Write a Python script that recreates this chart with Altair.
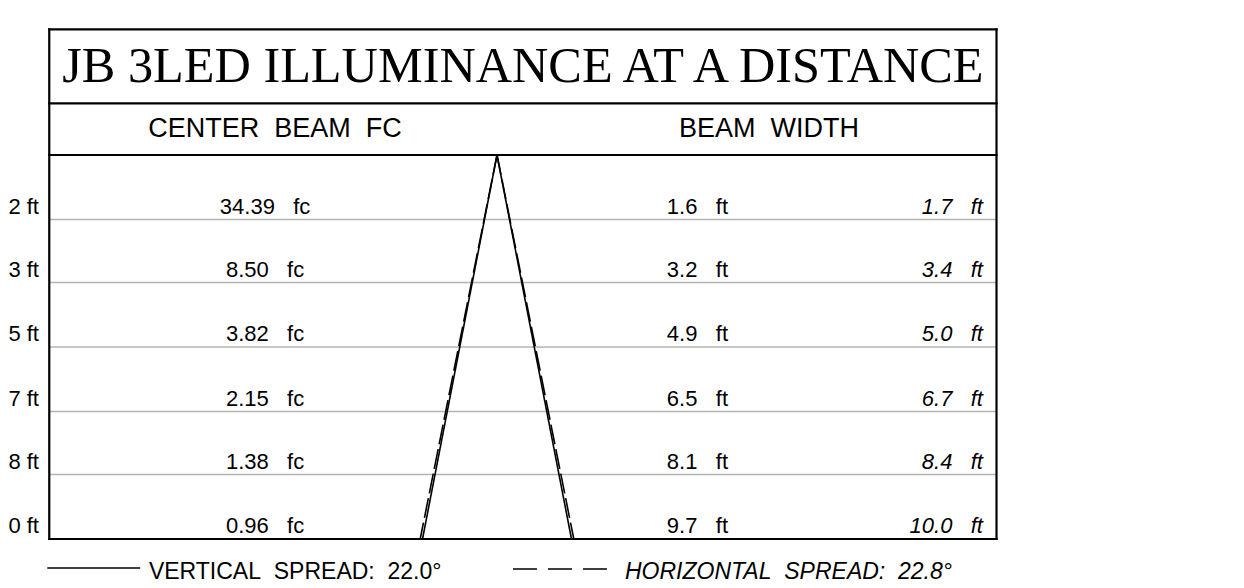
import altair as alt
import pandas as pd

# ---------------- data ----------------
distances = [4.2, 8.3, 12.5, 16.7, 20.8, 25.0]          # ft from fixture
center_fc = [34.39, 8.50, 3.82, 2.15, 1.38, 0.96]       # center beam footcandles
vertical_width = [1.6, 3.2, 4.9, 6.5, 8.1, 9.7]         # ft (vertical spread)
horizontal_width = [1.7, 3.4, 5.0, 6.7, 8.4, 10.0]      # ft (horizontal spread)
spread_labels = ["VERTICAL SPREAD: 22.0°", "HORIZONTAL SPREAD: 22.8°"]
title_text = "JB 3LED ILLUMINANCE AT A DISTANCE"
column_headers = ["CENTER BEAM FC", "BEAM WIDTH"]

NB = "\u00a0"


def gap(s, n):
    return s.replace(" ", NB * n)


# ---------------- layout (drawing units = feet) ----------------
PX_PER_FT = 15.36
W, H = 1228, 572
APEX_PX_X, APEX_PX_Y = 489, 147
XD = [-APEX_PX_X / PX_PER_FT, (W - APEX_PX_X) / PX_PER_FT]
YD = [-APEX_PX_Y / PX_PER_FT, (H - APEX_PX_Y) / PX_PER_FT]

BOX_L, BOX_R = -29.15, 32.52
BOX_T, TITLE_SEP, HEAD_SEP = -8.18, -3.366, 0.0
BOX_B = distances[-1]
ROW_TEXT_UP = 0.37

xs = alt.Scale(domain=XD, nice=False, zero=False)
ys = alt.Scale(domain=YD, nice=False, zero=False, reverse=True)


def X(f="x"):
    return alt.X(f"{f}:Q", scale=xs, axis=None)


def Y(f="y"):
    return alt.Y(f"{f}:Q", scale=ys, axis=None)


# borders
border = pd.DataFrame([
    dict(x=BOX_L, y=BOX_T, x2=BOX_R, y2=BOX_T),
    dict(x=BOX_L, y=TITLE_SEP, x2=BOX_R, y2=TITLE_SEP),
    dict(x=BOX_L, y=HEAD_SEP, x2=BOX_R, y2=HEAD_SEP),
    dict(x=BOX_L, y=BOX_B, x2=BOX_R, y2=BOX_B),
    dict(x=BOX_L, y=BOX_T, x2=BOX_L, y2=BOX_B),
    dict(x=BOX_R, y=BOX_T, x2=BOX_R, y2=BOX_B),
])
rows = pd.DataFrame(dict(x=BOX_L, x2=BOX_R, y=distances[:-1], y2=distances[:-1]))

beam_v = pd.DataFrame(dict(x=[0, 0], y=[0, 0],
                           x2=[-vertical_width[-1] / 2, vertical_width[-1] / 2],
                           y2=[distances[-1]] * 2))
beam_h = pd.DataFrame(dict(x=[0, 0], y=[0, 0],
                           x2=[-horizontal_width[-1] / 2, horizontal_width[-1] / 2],
                           y2=[distances[-1]] * 2))


def base_rule(df):
    return alt.Chart(df).encode(x=X(), y=Y(), x2="x2:Q", y2="y2:Q")


l_border = base_rule(border).mark_rule(color="black", strokeWidth=2.2, strokeCap="square")
l_rows = base_rule(rows).mark_rule(color="#b4b4b4", strokeWidth=1.5)
l_bv = base_rule(beam_v).mark_rule(color="black", strokeWidth=1.6)
l_bh = base_rule(beam_h).mark_rule(color="black", strokeWidth=1.6, strokeDash=[20, 5])

# texts
ty = [d - ROW_TEXT_UP for d in distances]
t_title = alt.Chart(pd.DataFrame(dict(x=[(BOX_L + BOX_R) / 2], y=[-4.772], t=[title_text]))).mark_text(
    font="Liberation Serif", fontSize=50.3, align="center", baseline="alphabetic", color="black"
).encode(x=X(), y=Y(), text="t:N")

t_head = alt.Chart(pd.DataFrame(dict(x=[-14.45, 17.71], y=[-1.191, -1.191],
                                     t=[gap(h, 2) for h in column_headers]))).mark_text(
    font="Liberation Sans", fontSize=27, align="center", baseline="alphabetic", color="black"
).encode(x=X(), y=Y(), text="t:N")

t_dist = alt.Chart(pd.DataFrame(dict(x=-29.82, y=ty, t=[f"{d:.1f}{NB}ft" for d in distances]))).mark_text(
    font="Liberation Sans", fontSize=22, align="right", baseline="alphabetic", color="black"
).encode(x=X(), y=Y(), text="t:N")

t_fc = alt.Chart(pd.DataFrame(dict(x=-15.10, y=ty, t=[f"{v:.2f}{NB*3}fc" for v in center_fc]))).mark_text(
    font="Liberation Sans", fontSize=22, align="center", baseline="alphabetic", color="black"
).encode(x=X(), y=Y(), text="t:N")

t_vw = alt.Chart(pd.DataFrame(dict(x=13.05, y=ty, t=[f"{v:.1f}{NB*3}ft" for v in vertical_width]))).mark_text(
    font="Liberation Sans", fontSize=22, align="center", baseline="alphabetic", color="black"
).encode(x=X(), y=Y(), text="t:N")

t_hw = alt.Chart(pd.DataFrame(dict(x=31.64, y=ty, t=[f"{v:.1f}{NB*3}ft" for v in horizontal_width]))).mark_text(
    font="Liberation Sans", fontSize=22, align="right", baseline="alphabetic", fontStyle="italic", color="black"
).encode(x=X(), y=Y(), text="t:N")

# legend
leg_v_line = base_rule(pd.DataFrame(dict(x=[-29.28], x2=[-23.23], y=[26.89], y2=[26.89]))).mark_rule(
    color="black", strokeWidth=1.6)
leg_h_line = base_rule(pd.DataFrame(dict(x=[1.04], x2=[7.16], y=[26.95], y2=[26.95]))).mark_rule(
    color="black", strokeWidth=1.6, strokeDash=[24, 11])
leg_v_text = alt.Chart(pd.DataFrame(dict(x=[-22.66], y=[27.62], t=[gap(spread_labels[0], 2)]))).mark_text(
    font="Liberation Sans", fontSize=23, align="left", baseline="alphabetic", color="black"
).encode(x=X(), y=Y(), text="t:N")
leg_h_text = alt.Chart(pd.DataFrame(dict(x=[8.33], y=[27.62], t=[gap(spread_labels[1], 2)]))).mark_text(
    font="Liberation Sans", fontSize=23, align="left", baseline="alphabetic", fontStyle="italic", color="black"
).encode(x=X(), y=Y(), text="t:N")

chart = alt.layer(
    l_rows, l_bh, l_bv, l_border,
    t_title, t_head, t_dist, t_fc, t_vw, t_hw,
    leg_v_line, leg_h_line, leg_v_text, leg_h_text,
).properties(
    width=W, height=H, padding=0, background="white",
    autosize=alt.AutoSizeParams(type="none"),
).configure_view(stroke=None)

chart.save("out.html", embed_options={"renderer": "svg", "actions": False})
